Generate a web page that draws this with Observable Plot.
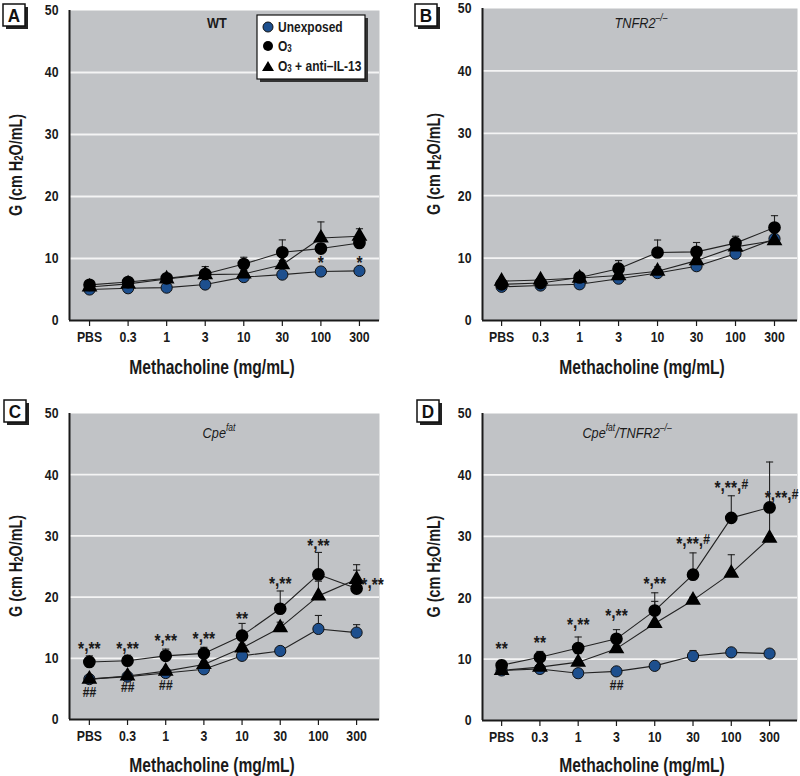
<!DOCTYPE html>
<html><head><meta charset="utf-8">
<script src="https://cdn.jsdelivr.net/npm/d3@7"></script>
<script src="https://cdn.jsdelivr.net/npm/@observablehq/plot@0.6"></script>
<style>
html,body{margin:0;padding:0;background:#fff;}
#root{position:relative;width:800px;height:776px;overflow:hidden;}
#root svg{position:absolute;overflow:visible;}
</style>
</head><body>
<div id="root"></div>
<script>
// ---------- data ----------
const doses = ["PBS","0.3","1","3","10","30","100","300"];
const yTicks = [0,10,20,30,40,50];
const legendLabels = ["Unexposed", "O", "O"];

// Panel A (WT)
const A_unexp    = [5.0,5.2,5.3,5.8,7.0,7.4,7.9,8.0];
const A_unexpErr = [0,0,0,0,0,0,0.3,0.3];
const A_o3       = [5.75,6.2,6.8,7.5,9.1,11.0,11.6,12.5];
const A_o3Err    = [0.3,0.3,0.4,0.6,1.1,2.0,0.8,0.8];
const A_anti     = [5.4,5.9,6.7,7.4,7.5,9.0,13.3,13.6];
const A_antiErr  = [0.3,0.3,0.3,1.3,0.6,0.7,2.6,1.2];
const A_above    = [{i:6,t:"*",y:9.8},{i:7,t:"*",y:9.8}];
const A_below    = [];

// Panel B (TNFR2-/-)
const B_unexp    = [5.4,5.6,5.8,6.7,7.6,8.7,10.7,13.1];
const B_unexpErr = [0,0,0,0,0,0.3,0.4,0.5];
const B_o3       = [5.8,6.0,6.9,8.3,10.9,11.0,12.4,14.9];
const B_o3Err    = [0.2,0.2,0.7,1.3,2.0,1.5,1.1,1.9];
const B_anti     = [6.3,6.5,6.8,7.2,7.9,9.6,11.8,12.8];
const B_antiErr  = [0.2,0.2,0.3,0.3,0.7,0.5,0.5,0.5];
const B_above    = [];
const B_below    = [];

// Panel C (Cpe fat)
const C_unexp    = [6.6,7.0,7.6,8.2,10.4,11.2,14.8,14.2];
const C_unexpErr = [0.2,0.2,0.3,0.3,0.4,0.4,2.2,1.3];
const C_o3       = [9.4,9.6,10.4,10.8,13.7,18.1,23.7,21.4];
const C_o3Err    = [1.0,0.9,1.1,1.0,2.0,2.9,3.6,3.0];
const C_anti     = [6.6,7.1,7.9,9.0,11.7,15.0,20.2,22.9];
const C_antiErr  = [0.2,0.2,0.3,0.5,0.6,0.9,2.4,2.4];
const C_above    = [{i:0,t:"*,**",y:12.1},{i:1,t:"*,**",y:12.0},{i:2,t:"*,**",y:13.4},{i:3,t:"*,**",y:13.6},
                    {i:4,t:"**",y:17.0},{i:5,t:"*,**",y:22.7},{i:6,t:"*,**",y:28.8}];
const C_side     = [{i:7,t:"*,**",y:22.4}];
const C_below    = [{i:0,t:"##",y:4.5},{i:1,t:"##",y:5.2},{i:2,t:"##",y:5.6}];

// Panel D (Cpe fat / TNFR2-/-)
const D_unexp    = [8.15,8.4,7.7,8.0,8.9,10.5,11.1,10.9];
const D_unexpErr = [0.2,0.2,0.2,0.2,0.3,0.9,0.4,0.3];
const D_o3       = [9.0,10.3,11.8,13.3,17.9,23.75,33.0,34.7];
const D_o3Err    = [0.8,0.95,1.8,1.5,2.9,3.55,3.6,7.4];
const D_anti     = [8.15,8.7,9.5,11.7,15.8,19.6,24.0,29.7];
const D_antiErr  = [0.3,0.3,1.4,0.4,3.6,0.5,3.0,4.5];
const D_above    = [{i:0,t:"**",y:12.2},{i:1,t:"**",y:13.2},{i:2,t:"*,**",y:16.0},{i:3,t:"*,**",y:17.5},
                    {i:4,t:"*,**",y:22.8},{i:5,t:"*,**,#",y:29.3},{i:6,t:"*,**,#",y:38.3}];
const D_side     = [{i:7,t:"*,**,#",y:36.7}];
const D_below    = [{i:3,t:"##",y:5.7}];

// ---------- styles ----------
const BG = "#c1c3c6", BLUE = "#1d4f8e", INK = "#1a1a1a";
const FONT = "'Liberation Sans',Arial,sans-serif";
const SVGNS = "http://www.w3.org/2000/svg";
const capSymbol = {draw(ctx, size){ const w = Math.sqrt(size/Math.PI); ctx.moveTo(-w,0); ctx.lineTo(w,0); }};

const panels = [
  {key:"A", left:0,   top:0,   mL:69, mR:21, mT:10, mB:68, xdom:[-0.52,7.52], title:[["WT",false]], titleX:217, titleY:23,
   xTitleX:212, xTitleY:367, yTitleX:15, sideDx:16,
   data:[A_unexp,A_unexpErr,A_o3,A_o3Err,A_anti,A_antiErr], above:A_above, side:[], below:A_below, box:[3,4], legend:true},
  {key:"B", left:400, top:0,   mL:82, mR:3,  mT:8,  mB:68, xdom:[-0.49,7.59], title:[["TNFR2",true],["–/–",true,"sup"]], titleX:241, titleY:23,
   xTitleX:242, xTitleY:367, yTitleX:33, sideDx:12,
   data:[B_unexp,B_unexpErr,B_o3,B_o3Err,B_anti,B_antiErr], above:B_above, side:[], below:B_below, box:[15,4]},
  {key:"C", left:0,   top:388, mL:69, mR:21, mT:25, mB:57, xdom:[-0.52,7.6], title:[["Cpe",true],["fat",true,"sup"]], titleX:219, titleY:45,
   xTitleX:212, xTitleY:377, yTitleX:15, sideDx:16,
   data:[C_unexp,C_unexpErr,C_o3,C_o3Err,C_anti,C_antiErr], above:C_above, side:C_side, below:C_below, box:[4,12]},
  {key:"D", left:400, top:388, mL:82, mR:3,  mT:25, mB:56, xdom:[-0.5,7.73], title:[["Cpe",true],["fat",true,"sup"],["/",true],["TNFR2",true],["–/–",true,"sup"]], titleX:227, titleY:45,
   xTitleX:242, xTitleY:377, yTitleX:33, sideDx:12,
   data:[D_unexp,D_unexpErr,D_o3,D_o3Err,D_anti,D_antiErr], above:D_above, side:D_side, below:D_below, box:[17,12]}
];

const root = document.getElementById("root");

// make the sans font look condensed: horizontal squeeze about each text's own anchor
function condense(nodes, k){
  nodes.forEach(t=>{
    const tr = t.getAttribute("transform")||"";
    t.setAttribute("transform", `${tr} scale(${k},1)`);
  });
}
// significance marks: commas sit tight under the asterisks, "#" set in italic
function styleMarks(t){
  const s = t.textContent;
  if(!/^[*,#]+$/.test(s) || !/[*]/.test(s)) return;
  t.textContent = "";
  let raised = false;
  for(const ch of s){
    const ts = document.createElementNS(SVGNS,"tspan");
    ts.textContent = ch;
    if(ch===","){ ts.setAttribute("dy","-0.2em"); raised = true; }
    else if(raised){ ts.setAttribute("dy","0.2em"); raised = false; }
    if(ch==="#"){ ts.setAttribute("font-style","italic"); ts.setAttribute("font-size","15"); ts.setAttribute("dy", raised ? "0.2em" : "-0.1em"); }
    t.appendChild(ts);
  }
}
function addText(svg, x, y, size, k, anchor="middle"){
  return svg.append("text").attr("transform",`translate(${x},${y}) scale(${k},1)`)
    .attr("text-anchor",anchor).attr("dominant-baseline","central")
    .attr("font-family",FONT).attr("font-size",size).attr("font-weight","bold").attr("fill",INK);
}

function build(p){
  const [u,ue,o,oe,a,ae] = p.data;
  const rows = [];
  doses.forEach((d,i)=>{
    rows.push({s:"unexp", i, v:u[i], e:ue[i]});
    rows.push({s:"anti",  i, v:a[i], e:ae[i]});
    rows.push({s:"o3",    i, v:o[i], e:oe[i]});
  });
  const errs = rows.filter(d=>d.e>0);
  const plot = Plot.plot({
    width:400, height:388,
    marginLeft:p.mL, marginRight:p.mR, marginTop:p.mT, marginBottom:p.mB,
    x:{type:"linear", domain:p.xdom, axis:null},
    y:{domain:[0,50], axis:null},
    style:{fontFamily:FONT, fontSize:"15px", fontWeight:"bold", color:INK, background:"transparent", overflow:"visible"},
    marks:[
      Plot.frame({fill:BG, stroke:null}),
      Plot.gridY([10,20,30,40], {stroke:"#f4f4f4", strokeOpacity:1, strokeWidth:1.8}),
      Plot.axisX(d3.range(doses.length), {tickFormat:i=>doses[i], tickSize:6, tickPadding:5, stroke:INK, strokeWidth:1.2, fontSize:15, label:null}),
      Plot.axisY(yTicks, {tickSize:0, tickPadding:11, fontSize:15, label:null}),
      Plot.ruleY([0], {stroke:INK, strokeWidth:2}),
      Plot.ruleX([p.xdom[0]], {stroke:INK, strokeWidth:2}),
      Plot.line(rows, {x:"i", y:"v", z:"s", stroke:"#222", strokeWidth:1.1}),
      Plot.ruleX(errs, {x:"i", y1:"v", y2:d=>d.v+d.e, stroke:"#222", strokeWidth:1.1}),
      Plot.dot(errs, {x:"i", y:d=>d.v+d.e, symbol:capSymbol, r:3.6, stroke:"#222", strokeWidth:1.1}),
      Plot.dot(rows.filter(d=>d.s==="unexp"), {x:"i", y:"v", r:5.6, fill:BLUE, stroke:"#111", strokeWidth:1}),
      Plot.dot(rows.filter(d=>d.s==="anti"), {x:"i", y:"v", symbol:"triangle", r:4.9, fill:"#000", stroke:"#000"}),
      Plot.dot(rows.filter(d=>d.s==="o3"), {x:"i", y:"v", r:5.6, fill:"#000", stroke:"#000"}),
      Plot.text(p.above, {x:"i", y:"y", text:"t", dy:3, fontSize:19, fill:INK}),
      Plot.text(p.side, {x:"i", y:"y", text:"t", dx:p.sideDx, dy:3, fontSize:19, fill:INK}),
      Plot.text(p.below, {x:"i", y:"y", text:"t", fontSize:15, fontStyle:"italic", fill:INK})
    ]
  });
  plot.style.left = p.left+"px";
  plot.style.top = p.top+"px";
  const texts = Array.from(plot.querySelectorAll("text"));
  texts.forEach(styleMarks);
  condense(texts, 0.82);
  const svg = d3.select(plot);
  const cy = (p.mT + (388 - p.mB))/2;
  // y-axis title
  const yt = svg.append("text").attr("transform",`translate(${p.yTitleX},${cy}) rotate(-90) scale(0.8,1)`)
    .attr("text-anchor","middle").attr("dominant-baseline","central")
    .attr("font-family",FONT).attr("font-size",18).attr("font-weight","bold").attr("fill",INK);
  yt.append("tspan").text("G (cm H");
  yt.append("tspan").attr("font-size",12).attr("dy",4).text("2");
  yt.append("tspan").attr("dy",-4).text("O/mL)");
  // x-axis title
  addText(svg, p.xTitleX, p.xTitleY, 20, 0.78).text("Methacholine (mg/mL)");
  // panel title
  const tt = addText(svg, p.titleX, p.titleY, 15, 0.85).attr("font-weight", p.key==="A"?"bold":"normal");
  let raised = false;
  p.title.forEach(([s,it,pos])=>{
    const ts = tt.append("tspan").text(s).attr("font-style", it?"italic":"normal");
    if(pos==="sup"){ ts.attr("font-size",10).attr("dy",-5); raised = true; }
    else if(raised){ ts.attr("dy",5); raised = false; }
  });
  // panel letter box
  const [bx,by] = p.box;
  svg.append("rect").attr("x",bx+3).attr("y",by+3).attr("width",22).attr("height",22).attr("fill","#222");
  svg.append("rect").attr("x",bx).attr("y",by).attr("width",22).attr("height",22).attr("fill","#fff").attr("stroke","#111").attr("stroke-width",1.5);
  addText(svg, bx+11, by+12, 19, 0.9).attr("fill","#111").text(p.key);
  // legend
  if(p.legend){
    const g = svg.append("g");
    g.append("rect").attr("x",260).attr("y",18).attr("width",108).attr("height",64).attr("fill","#333");
    g.append("rect").attr("x",257).attr("y",15).attr("width",108).attr("height",64).attr("fill","#fff").attr("stroke","#111").attr("stroke-width",1.2);
    g.append("circle").attr("cx",268).attr("cy",27).attr("r",5).attr("fill",BLUE).attr("stroke","#111");
    g.append("circle").attr("cx",268).attr("cy",46).attr("r",5).attr("fill","#000");
    g.append("path").attr("d","M268,61 L274,71 L262,71Z").attr("fill","#000");
    addText(g, 278, 27, 15, 0.8, "start").text(legendLabels[0]);
    const t2 = addText(g, 278, 45, 15, 0.8, "start"); t2.append("tspan").text(legendLabels[1]); t2.append("tspan").attr("font-size",10).attr("dy",4).text("3");
    const t3 = addText(g, 278, 65, 15, 0.8, "start"); t3.append("tspan").text(legendLabels[2]); t3.append("tspan").attr("font-size",10).attr("dy",4).text("3");
    t3.append("tspan").attr("dy",-4).text(" + anti–IL-13");
  }
  root.appendChild(plot);
}
panels.forEach(build);
</script>
</body></html>
